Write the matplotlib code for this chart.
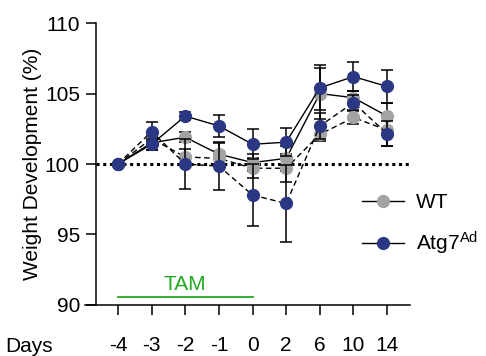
import matplotlib
matplotlib.use("Agg")
import matplotlib.pyplot as plt
from matplotlib.lines import Line2D
import numpy as np

plt.rcParams['font.family'] = ['Liberation Sans', 'DejaVu Sans']
plt.rcParams['mathtext.fontset'] = 'custom'
plt.rcParams['mathtext.rm'] = 'Liberation Sans'
plt.rcParams['mathtext.it'] = 'Liberation Sans:italic'

days = ['-4', '-3', '-2', '-1', '0', '2', '6', '10', '14']
yticks = [90, 95, 100, 105, 110]

wt_solid = [100, 101.5, 101.9, 100.7, 100.1, 100.4, 105.0, 104.7, 103.4]
wt_solid_err = [0, 0.5, 0.35, 0.8, 0.6, 0.9, 1.8, 0.45, 0.9]
wt_dashed = [100, 101.8, 100.5, 100.4, 99.7, 99.7, 102.1, 103.3, 102.4]
wt_dashed_err = [0, 0.5, 0.6, 0.5, 0.7, 1.0, 0.5, 0.45, 1.1]
atg_solid = [100, 101.4, 103.4, 102.7, 101.4, 101.55, 105.4, 106.2, 105.5]
atg_solid_err = [0, 0.4, 0.3, 0.75, 1.05, 1.0, 1.6, 1.05, 1.2]
atg_dashed = [100, 102.3, 100.0, 99.85, 97.8, 97.2, 102.7, 104.35, 102.15]
atg_dashed_err = [0, 0.65, 1.8, 1.7, 2.2, 2.7, 0.9, 0.55, 0.9]

tam_start, tam_end = '-4', '0'

GREY = '#a3a3a3'
NAVY = '#2b3782'
GREEN = '#22aa22'
FS = 15

fig = plt.figure(figsize=(4.86, 3.56), dpi=100)
ax = fig.add_axes([0.1749, 0.1433, 0.8436 - 0.1749, 0.792])

x = np.arange(len(days))
dash = (0, (4, 2.5))

def series(y, e, color, ls, z):
    ax.errorbar(x, y, yerr=e, color='black', ls=ls, lw=1.0, elinewidth=1.1,
                capsize=4.5, capthick=1.1, marker='o', ms=8.5, mfc=color,
                mec=color, zorder=z)

series(wt_dashed, wt_dashed_err, GREY, dash, 3)
series(wt_solid, wt_solid_err, GREY, '-', 3)
series(atg_dashed, atg_dashed_err, NAVY, dash, 4)
series(atg_solid, atg_solid_err, NAVY, '-', 4)

# baseline dotted line at 100
ax.plot([-0.654, 8.75], [100, 100], color='black', lw=2.2, ls=(0, (1, 1.2)),
        zorder=2, clip_on=False)

# TAM bar
i0, i1 = days.index(tam_start), days.index(tam_end)
ax.plot([i0, i1], [90.55, 90.55], color=GREEN, lw=1.3, zorder=2)
ax.text((i0 + i1) / 2, 90.8, 'TAM', color=GREEN, fontsize=FS, ha='center', va='bottom')

ax.set_xlim(-0.98, 8.68)
ax.set_ylim(90, 110)
ax.set_xticks(x)
ax.set_xticklabels(days)
ax.set_yticks(yticks)
ax.spines['top'].set_visible(False)
ax.spines['right'].set_visible(False)
ax.spines['left'].set_position(('data', -0.654))
for s in ['left', 'bottom']:
    ax.spines[s].set_linewidth(1.1)
ax.tick_params(axis='both', labelsize=FS, width=1.1, length=7.5)
ax.tick_params(axis='x', pad=15)
ax.tick_params(axis='y', pad=4)
ax.set_ylabel('Weight Development (%)', fontsize=FS)
ax.yaxis.set_label_coords((42 - 85) / 325, 0.5)

fig.text(5 / 486, 1 - 347 / 356, 'Days', fontsize=FS, ha='left', va='center')

handles = [
    Line2D([], [], color='black', lw=1.0, marker='o', ms=8.5, mfc=GREY, mec=GREY),
    Line2D([], [], color='black', lw=1.0, marker='o', ms=8.5, mfc=NAVY, mec=NAVY),
]
ax.legend(handles, ['WT', 'Atg7$^{\\mathrm{Ad}}$'], loc='center left',
          bbox_to_anchor=(362 / 486, 1 - 225 / 356), bbox_transform=fig.transFigure,
          frameon=False, fontsize=FS, handlelength=2.0, handletextpad=0.6,
          labelspacing=0.85, borderaxespad=0, borderpad=0)

fig.savefig('out.png', dpi=100)
